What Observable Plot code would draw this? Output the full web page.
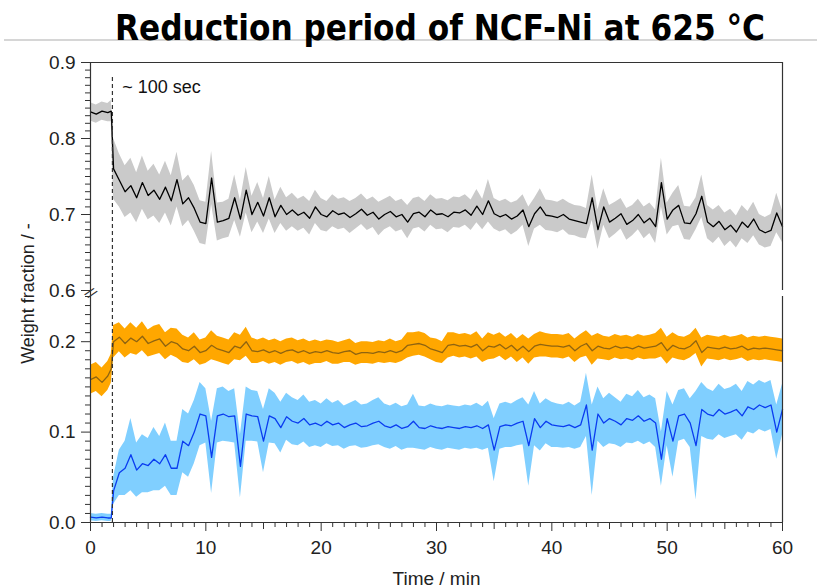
<!DOCTYPE html>
<html><head><meta charset="utf-8">
<script src="https://cdn.jsdelivr.net/npm/d3@7"></script>
<script src="https://cdn.jsdelivr.net/npm/@observablehq/plot@0.6"></script>
<style>
body{margin:0;background:#fff;width:817px;height:588px;overflow:hidden;position:relative;}
#title{position:absolute;left:0;top:0;}
#chart{position:absolute;left:0;top:50px;}
</style></head><body>
<svg id="title" width="817" height="50"><line x1="4" x2="817" y1="40" y2="40" stroke="#c8c8c8" stroke-width="1.5"/><text x="440" y="40" text-anchor="middle" font-family="DejaVu Sans Condensed, DejaVu Sans" font-weight="bold" font-size="36" textLength="650" lengthAdjust="spacingAndGlyphs">Reduction period of NCF-Ni at 625 °C</text></svg>
<div id="chart"></div>
<script>
// Time grid (min)
const time = [0, 0.5, 1, 1.5, 1.8, ...d3.range(2, 60.001, 0.5)];

// NCF-Ni weight fraction (black line, grey band)
const blackMean = [
0.835,0.832,0.836,0.834,0.836,
0.760,0.745,0.730,0.738,0.722,0.742,0.725,0.732,0.720,0.736,
0.718,0.746,0.714,0.722,0.708,0.690,0.688,0.748,0.690,0.692,
0.695,0.722,0.694,0.732,0.700,0.716,0.698,0.722,0.697,0.712,
0.700,0.706,0.699,0.703,0.695,0.710,0.700,0.697,0.705,0.700,
0.702,0.696,0.701,0.707,0.699,0.703,0.694,0.700,0.704,0.697,
0.700,0.690,0.701,0.703,0.697,0.706,0.700,0.701,0.697,0.703,
0.702,0.706,0.699,0.711,0.700,0.718,0.701,0.697,0.700,0.694,
0.698,0.706,0.684,0.701,0.710,0.699,0.698,0.696,0.700,0.694,
0.692,0.690,0.688,0.722,0.680,0.710,0.690,0.695,0.701,0.687,
0.692,0.700,0.689,0.695,0.684,0.742,0.694,0.706,0.712,0.689,
0.688,0.701,0.724,0.690,0.684,0.691,0.680,0.686,0.677,0.690,
0.683,0.694,0.680,0.676,0.679,0.702,0.684];
const blackSpread = [
0.012,0.012,0.012,0.012,0.014,
0.040,0.035,0.034,0.036,0.033,0.035,0.032,0.034,0.032,0.034,
0.033,0.036,0.030,0.030,0.030,0.028,0.028,0.035,0.025,0.024,
0.025,0.030,0.024,0.030,0.024,0.026,0.023,0.028,0.022,0.024,
0.022,0.022,0.021,0.021,0.022,0.022,0.021,0.020,0.021,0.020,
0.020,0.021,0.020,0.020,0.020,0.020,0.022,0.020,0.020,0.020,
0.020,0.022,0.020,0.020,0.020,0.020,0.020,0.020,0.021,0.020,
0.020,0.020,0.020,0.022,0.020,0.028,0.020,0.020,0.020,0.021,
0.020,0.020,0.026,0.020,0.024,0.020,0.020,0.020,0.020,0.021,
0.020,0.021,0.020,0.030,0.026,0.024,0.022,0.021,0.020,0.021,
0.020,0.020,0.021,0.020,0.022,0.032,0.021,0.022,0.026,0.022,
0.022,0.021,0.028,0.022,0.022,0.021,0.022,0.021,0.021,0.022,
0.021,0.022,0.020,0.020,0.021,0.026,0.021];

// Orange series
const orangeMean = [
0.158,0.161,0.155,0.162,0.170,
0.200,0.205,0.198,0.204,0.200,0.206,0.198,0.201,0.203,0.195,
0.200,0.198,0.192,0.190,0.195,0.188,0.190,0.196,0.192,0.190,
0.188,0.195,0.193,0.200,0.190,0.189,0.191,0.188,0.190,0.187,
0.190,0.191,0.188,0.190,0.187,0.189,0.188,0.190,0.188,0.187,
0.189,0.190,0.186,0.188,0.188,0.187,0.189,0.188,0.190,0.188,
0.190,0.196,0.197,0.198,0.196,0.192,0.190,0.188,0.196,0.197,
0.195,0.196,0.194,0.197,0.190,0.195,0.194,0.197,0.192,0.196,
0.190,0.195,0.189,0.195,0.197,0.196,0.195,0.195,0.194,0.196,
0.190,0.195,0.198,0.190,0.195,0.193,0.192,0.195,0.193,0.194,
0.192,0.195,0.193,0.194,0.195,0.199,0.190,0.196,0.193,0.192,
0.195,0.201,0.188,0.194,0.193,0.192,0.194,0.192,0.193,0.195,
0.191,0.193,0.192,0.193,0.192,0.191,0.190];
const orangeSpread = [
0.016,0.016,0.016,0.016,0.016,
0.018,0.016,0.016,0.017,0.015,0.016,0.015,0.016,0.016,0.015,
0.015,0.016,0.015,0.014,0.015,0.014,0.014,0.016,0.014,0.014,
0.014,0.015,0.014,0.016,0.014,0.013,0.013,0.013,0.013,0.013,
0.013,0.013,0.013,0.013,0.013,0.013,0.012,0.012,0.013,0.012,
0.012,0.013,0.012,0.012,0.012,0.012,0.012,0.012,0.013,0.012,
0.012,0.014,0.013,0.013,0.013,0.012,0.013,0.012,0.014,0.013,
0.013,0.013,0.013,0.014,0.013,0.015,0.013,0.013,0.013,0.013,
0.013,0.013,0.014,0.013,0.014,0.013,0.013,0.013,0.013,0.013,
0.013,0.013,0.014,0.016,0.014,0.013,0.013,0.013,0.013,0.013,
0.013,0.013,0.013,0.013,0.014,0.016,0.015,0.014,0.013,0.013,
0.013,0.014,0.016,0.013,0.013,0.013,0.013,0.013,0.013,0.013,
0.013,0.013,0.013,0.013,0.013,0.013,0.013];

// Blue series
const blueMean = [
0.006,0.005,0.006,0.005,0.005,
0.035,0.055,0.060,0.075,0.058,0.065,0.063,0.070,0.065,0.075,
0.060,0.060,0.090,0.085,0.100,0.120,0.118,0.072,0.118,0.120,
0.117,0.118,0.062,0.120,0.118,0.117,0.090,0.118,0.115,0.105,
0.117,0.112,0.110,0.115,0.108,0.110,0.107,0.112,0.108,0.110,
0.105,0.108,0.110,0.106,0.107,0.110,0.112,0.107,0.105,0.108,
0.104,0.106,0.112,0.105,0.104,0.107,0.105,0.104,0.106,0.105,
0.104,0.106,0.105,0.107,0.104,0.108,0.080,0.106,0.108,0.107,
0.110,0.112,0.085,0.115,0.105,0.112,0.108,0.107,0.106,0.108,
0.105,0.108,0.130,0.080,0.120,0.110,0.115,0.112,0.108,0.115,
0.113,0.118,0.112,0.115,0.110,0.070,0.115,0.090,0.118,0.120,
0.110,0.085,0.125,0.120,0.118,0.125,0.120,0.122,0.125,0.118,
0.128,0.125,0.130,0.127,0.130,0.100,0.125];
const blueSpread = [
0.004,0.004,0.004,0.004,0.004,
0.015,0.025,0.030,0.040,0.030,0.032,0.030,0.035,0.030,0.035,
0.030,0.030,0.035,0.035,0.035,0.035,0.030,0.040,0.030,0.030,
0.028,0.030,0.035,0.030,0.028,0.028,0.035,0.030,0.028,0.028,
0.026,0.026,0.025,0.026,0.025,0.025,0.024,0.025,0.024,0.025,
0.024,0.024,0.025,0.024,0.024,0.025,0.026,0.024,0.024,0.024,
0.024,0.024,0.030,0.024,0.024,0.024,0.024,0.024,0.024,0.024,
0.024,0.024,0.024,0.025,0.024,0.026,0.035,0.025,0.025,0.024,
0.025,0.026,0.045,0.030,0.026,0.025,0.025,0.024,0.024,0.025,
0.024,0.025,0.035,0.050,0.030,0.027,0.028,0.026,0.025,0.027,
0.026,0.028,0.026,0.026,0.027,0.030,0.030,0.040,0.028,0.028,
0.027,0.060,0.030,0.028,0.027,0.028,0.027,0.027,0.028,0.027,
0.028,0.027,0.027,0.027,0.027,0.030,0.028];

// Axis ticks
const yMajor = [0, 0.1, 0.2, 0.6, 0.7, 0.8, 0.9];
const xMajor = [0, 10, 20, 30, 40, 50, 60];
const xMid = [5, 15, 25, 35, 45, 55];

// Annotation
const reductionTime = [1.9];
const annot = [{t: 2.75, w: 0.867, label: "~ 100 sec"}];

const rows = time.map((t, i) => ({
  t,
  bm: blackMean[i], bs: blackSpread[i],
  om: orangeMean[i], os: orangeSpread[i],
  um: blueMean[i], us: blueSpread[i]
}));

const yMinor = [...d3.range(0, 25.5, 1), ...d3.range(60, 90.5, 1)].map(v => v / 100)
  .filter(v => !yMajor.some(m => Math.abs(m - v) < 1e-9));
const xMinor = d3.range(0, 61, 1).filter(v => v % 5 !== 0);

const chart = Plot.plot({
  width: 817,
  height: 538,
  marginLeft: 90,
  marginRight: 35,
  marginTop: 12,
  marginBottom: 66,
  style: {fontSize: "19px", fontFamily: "'Liberation Sans', Arial, sans-serif", color: "#222"},
  x: {domain: [0, 60]},
  y: {type: "linear", domain: [0, 0.25, 0.6, 0.9], range: [472, 246, 240, 12]},
  marks: [
    Plot.areaY(rows, {x: "t", y1: d => d.bm - d.bs, y2: d => d.bm + d.bs, fill: "#cacaca"}),
    Plot.lineY(rows, {x: "t", y: "bm", stroke: "#000", strokeWidth: 1.3}),
    Plot.areaY(rows, {x: "t", y1: d => d.om - d.os, y2: d => d.om + d.os, fill: "#ffa700"}),
    Plot.lineY(rows, {x: "t", y: "om", stroke: "#8f6410", strokeWidth: 1.3}),
    Plot.areaY(rows, {x: "t", y1: d => d.um - d.us, y2: d => d.um + d.us, fill: "#80cfff"}),
    Plot.lineY(rows, {x: "t", y: "um", stroke: "#0a3cf0", strokeWidth: 1.3}),
    Plot.ruleX(reductionTime, {y1: 0, y2: 0.883, stroke: "#333", strokeDasharray: "4,3", strokeWidth: 1.2}),
    Plot.text(annot, {x: "t", y: "w", text: "label", textAnchor: "start", fontSize: 18, fill: "#111"}),
    // frame
    Plot.ruleY([0.9], {stroke: "#333", strokeWidth: 1.2}),
    Plot.ruleY([0], {stroke: "#333", strokeWidth: 1.2}),
    Plot.ruleX([0], {y1: 0, y2: 0.9, stroke: "#333", strokeWidth: 1.2}),
    Plot.ruleX([60], {y1: 0, y2: 0.25, stroke: "#333", strokeWidth: 1.2}),
    Plot.ruleX([60], {y1: 0.6, y2: 0.9, stroke: "#333", strokeWidth: 1.2}),
    Plot.text(["//"], {x: 0, y: 0.42, fontSize: 15, rotate: 40, fill: "#333"}),
    // axes
    Plot.axisY({ticks: yMajor, tickSize: 9, tickPadding: 6, tickFormat: d3.format(".1f"), label: null, stroke: "#333", fontSize: 19}),
    Plot.axisY({ticks: yMinor, tickSize: 5, tickFormat: () => "", label: null, stroke: "#333"}),
    Plot.axisX({ticks: xMajor, tickSize: 9, tickPadding: 9, tickFormat: d3.format("d"), label: "Time / min", labelAnchor: "center", labelArrow: "none", labelOffset: 62, stroke: "#333", fontSize: 19}),
    Plot.axisX({ticks: xMid, tickSize: 7, tickFormat: () => "", label: null, stroke: "#333"}),
    Plot.axisX({ticks: xMinor, tickSize: 5, tickFormat: () => "", label: null, stroke: "#333"}),
    Plot.text(["Weight fraction / -"], {x: 0, y: 0.425, dx: -62, rotate: -90, fontSize: 18, fill: "#222"})
  ]
});
document.getElementById("chart").appendChild(chart);
</script>
</body></html>
